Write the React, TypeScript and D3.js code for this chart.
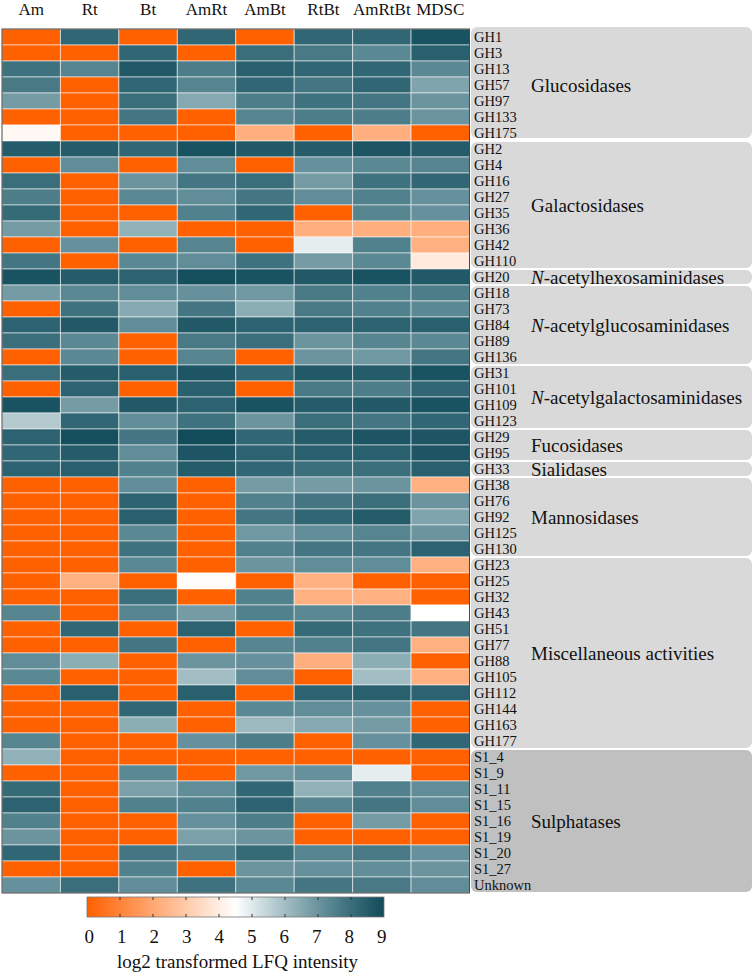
import React from "react";
import * as d3 from "d3";

// Samples (columns) and glycoside hydrolase / sulphatase families (rows)
const samples = ["Am", "Rt", "Bt", "AmRt", "AmBt", "RtBt", "AmRtBt", "MDSC"];

const families = [
  "GH1", "GH3", "GH13", "GH57", "GH97", "GH133", "GH175",
  "GH2", "GH4", "GH16", "GH27", "GH35", "GH36", "GH42", "GH110",
  "GH20",
  "GH18", "GH73", "GH84", "GH89", "GH136",
  "GH31", "GH101", "GH109", "GH123",
  "GH29", "GH95",
  "GH33",
  "GH38", "GH76", "GH92", "GH125", "GH130",
  "GH23", "GH25", "GH32", "GH43", "GH51", "GH77", "GH88", "GH105", "GH112", "GH144", "GH163", "GH177",
  "S1_4", "S1_9", "S1_11", "S1_15", "S1_16", "S1_19", "S1_20", "S1_27", "Unknown",
];

// Activity groups: [prefix in italics, rest of name]
const groupNames: [string, string][] = [
  ["", "Glucosidases"],
  ["", "Galactosidases"],
  ["N", "-acetylhexosaminidases"],
  ["N", "-acetylglucosaminidases"],
  ["N", "-acetylgalactosaminidases"],
  ["", "Fucosidases"],
  ["", "Sialidases"],
  ["", "Mannosidases"],
  ["", "Miscellaneous activities"],
  ["", "Sulphatases"],
];
const groupSizes = [7, 8, 1, 5, 4, 2, 1, 5, 12, 9];

// log2 transformed LFQ intensity per sample, in family order
const am = [0, 0, 7.9, 7.7, 6.8, 0, 4.3, 8.5, 0, 8.0, 7.6, 8.1, 6.8, 0, 7.8, 8.8, 6.8, 0, 8.3, 8.0, 0, 8.0, 0, 8.8, 5.7, 8.3, 8.2, 8.3, 0, 0, 0, 0, 0, 0, 0, 0, 7.4, 0, 0, 7.2, 7.3, 0, 0, 0, 7.4, 6.3, 0, 8.1, 8.3, 7.5, 7.0, 8.2, 0, 7.1];
const rt = [8.2, 0, 7.4, 0, 0, 0, 0, 8.5, 7.2, 0, 0, 0, 0, 7.1, 0, 8.5, 7.3, 7.9, 8.6, 7.3, 7.3, 8.5, 8.3, 6.8, 8.2, 8.9, 8.5, 8.4, 0, 0, 0, 0, 0, 0, 2.3, 0, 0, 8.2, 0, 6.4, 0, 8.4, 0, 0, 0, 0, 0, 0, 0, 0, 0, 0, 0, 8.0];
const bt = [0, 8.2, 8.6, 8.2, 8.0, 7.8, 0, 8.2, 0, 7.0, 7.3, 0, 6.3, 0, 7.3, 8.3, 7.2, 6.5, 7.2, 0, 0, 8.4, 0, 8.6, 7.2, 7.8, 7.2, 7.5, 7.2, 8.3, 8.4, 7.3, 7.9, 7.3, 0, 8.0, 7.4, 0, 7.8, 0, 0, 0, 8.2, 6.4, 0, 0, 7.3, 6.7, 7.5, 0, 0, 7.8, 7.5, 7.2];
const amRt = [8.2, 0, 7.6, 7.4, 6.5, 0, 0, 8.8, 7.2, 7.8, 7.2, 7.5, 0, 7.4, 7.2, 8.9, 7.1, 7.8, 8.6, 7.7, 7.4, 8.7, 8.4, 8.3, 7.9, 9.0, 8.7, 8.5, 0, 0, 0, 0, 0, 0, 4.4, 0, 6.8, 8.3, 0, 7.0, 6.0, 8.4, 0, 0, 7.1, 0, 0, 7.2, 7.5, 7.1, 6.7, 7.5, 0, 7.9];
const amBt = [0, 8.0, 8.4, 8.2, 7.6, 7.4, 2.2, 8.6, 0, 8.0, 7.8, 8.2, 0, 0, 7.9, 8.8, 6.9, 6.4, 8.3, 8.0, 0, 8.2, 0, 8.8, 7.0, 8.2, 8.3, 8.2, 6.8, 7.5, 7.8, 6.9, 7.5, 7.0, 0, 7.5, 7.5, 0, 7.4, 7.1, 7.2, 0, 7.3, 6.1, 7.6, 0, 6.9, 8.2, 8.3, 7.6, 7.0, 8.1, 7.0, 7.3];
const rtBt = [8.2, 7.7, 8.2, 7.8, 7.9, 7.6, 0, 8.5, 7.1, 6.8, 7.2, 0, 2.2, 4.9, 6.8, 8.6, 7.7, 7.7, 8.3, 7.0, 7.0, 8.6, 7.7, 8.5, 8.0, 8.5, 8.4, 8.0, 6.8, 7.8, 8.2, 7.2, 7.8, 7.2, 2.3, 2.3, 7.3, 8.1, 7.5, 2.2, 0, 8.3, 7.2, 6.5, 0, 0, 7.1, 6.3, 7.4, 0, 0, 7.4, 7.1, 7.8];
const amRtBt = [8.2, 7.3, 8.2, 8.2, 7.8, 7.6, 2.2, 8.7, 7.3, 7.9, 7.5, 7.4, 2.2, 7.5, 7.3, 8.8, 7.5, 7.5, 8.3, 7.4, 6.9, 8.5, 7.6, 8.6, 7.8, 8.7, 8.4, 8.0, 7.0, 8.0, 8.5, 7.4, 7.8, 7.2, 0, 2.3, 7.6, 7.9, 7.8, 6.4, 6.0, 8.4, 7.1, 6.8, 7.1, 0, 4.9, 7.5, 7.8, 6.8, 0, 7.7, 7.2, 7.7];
const mdsc = [8.8, 8.4, 7.3, 6.6, 7.0, 7.0, 0, 8.5, 7.4, 8.2, 7.1, 7.1, 2.2, 2.3, 3.9, 8.6, 7.6, 7.3, 8.4, 7.3, 7.8, 8.8, 8.2, 8.8, 8.2, 8.7, 8.7, 8.4, 2.3, 7.0, 6.6, 7.0, 8.3, 2.3, 0, 0, 4.5, 7.8, 2.3, 0, 2.3, 8.3, 0, 0, 8.2, 0, 0, 7.2, 7.2, 0, 0, 7.1, 7.0, 7.2];

const seriesBySample = [am, rt, bt, amRt, amBt, rtBt, amRtBt, mdsc];

const legendTicks = [0, 1, 2, 3, 4, 5, 6, 7, 8, 9];
const legendTitle = "log2 transformed LFQ intensity";

const FONT = "'Liberation Serif', 'Times New Roman', Times, serif";

// diverging palette: orange -> white -> dark teal
const lowInterp = d3.interpolateRgb("#ff6000", "#ffffff");
const highInterp = d3.interpolateRgb.gamma(0.75)("#ffffff", "#124b5a");
const t = d3.scaleLinear().domain([0, 4.5, 9]).range([0, 1, 2]).clamp(true);
const color = (v: number) => {
  const u = t(v);
  return u <= 1 ? lowInterp(u) : highInterp(u - 1);
};

export default function App() {
  const width = 755;
  const height = 976;

  const x = d3.scaleBand<string>().domain(samples).range([2, 469.5]).padding(0);
  const y = d3.scaleBand<string>().domain(families).range([29, 893]).padding(0);

  const cells: { key: string; x: number; y: number; w: number; h: number; fill: string }[] = [];
  samples.forEach((s, si) => {
    families.forEach((f, fi) => {
      cells.push({
        key: `${s}-${f}`,
        x: x(s)!,
        y: y(f)!,
        w: x.bandwidth(),
        h: y.bandwidth(),
        fill: color(seriesBySample[si][fi]),
      });
    });
  });

  // group extents
  const groups: { name: [string, string]; y0: number; y1: number; idx: number }[] = [];
  let start = 0;
  groupSizes.forEach((n, gi) => {
    const first = families[start];
    const last = families[start + n - 1];
    groups.push({ name: groupNames[gi], y0: y(first)!, y1: y(last)! + y.bandwidth(), idx: gi });
    start += n;
  });

  const cb = d3.scaleLinear().domain([0, 9]).range([87, 384]);
  const cbTop = 897;
  const cbH = 20;
  const gradStops = d3.range(0, 9.01, 0.25);

  return (
    <svg
      width={width}
      height={height}
      style={{ position: "absolute", left: 0, top: 0, background: "#fff", fontFamily: FONT }}
    >
      <defs>
        <linearGradient id="lfq-grad" x1="0" x2="1" y1="0" y2="0">
          {gradStops.map((v) => (
            <stop key={v} offset={`${(v / 9) * 100}%`} stopColor={color(v)} />
          ))}
        </linearGradient>
      </defs>

      {/* column headers */}
      {samples.map((s) => (
        <text key={s} x={x(s)! + x.bandwidth() / 2} y={15} textAnchor="middle" fontSize={17} fill="#111">
          {s}
        </text>
      ))}

      {/* group boxes */}
      {groups.map((g) => (
        <rect
          key={`box-${g.idx}`}
          x={471}
          y={g.idx === 0 ? g.y0 - 2 : g.y0 + 1}
          width={281}
          height={g.y1 - g.y0 - (g.idx === 0 ? 1 : 2)}
          rx={6}
          fill={g.idx === groups.length - 1 ? "#c0c0c0" : "#d9d9d9"}
        />
      ))}

      {/* heatmap cells */}
      <g>
        {cells.map((c) => (
          <rect
            key={c.key}
            x={c.x}
            y={c.y}
            width={c.w}
            height={c.h}
            fill={c.fill}
            stroke="rgba(255,255,255,0.55)"
            strokeWidth={1}
          />
        ))}
        <rect
          x={x.range()[0]}
          y={y.range()[0]}
          width={x.range()[1] - x.range()[0]}
          height={y.range()[1] - y.range()[0]}
          fill="none"
          stroke="#4a4a4a"
          strokeWidth={1}
        />
      </g>

      {/* row labels */}
      {families.map((f) => (
        <text
          key={`lab-${f}`}
          x={474}
          y={y(f)! + y.bandwidth() / 2}
          dominantBaseline="central"
          fontSize={14.5}
          fill="#111"
        >
          {f}
        </text>
      ))}

      {/* group labels */}
      {groups.map((g) => (
        <text
          key={`glab-${g.idx}`}
          x={531}
          y={(g.y0 + g.y1) / 2}
          dominantBaseline="central"
          fontSize={19}
          fill="#111"
        >
          {g.name[0] && <tspan fontStyle="italic">{g.name[0]}</tspan>}
          <tspan>{g.name[1]}</tspan>
        </text>
      ))}

      {/* colour legend */}
      <rect x={cb(0)} y={cbTop} width={cb(9) - cb(0)} height={cbH} fill="url(#lfq-grad)" stroke="#777" strokeWidth={0.8} />
      {legendTicks.map((tk) => (
        <g key={`tick-${tk}`}>
          {tk > 0 && tk < 9 && (
            <>
              <line x1={cb(tk)} x2={cb(tk)} y1={cbTop} y2={cbTop + 3} stroke="#333" strokeWidth={1} />
              <line x1={cb(tk)} x2={cb(tk)} y1={cbTop + cbH - 3} y2={cbTop + cbH} stroke="#333" strokeWidth={1} />
            </>
          )}
          <text x={cb(tk) + (4.5 - tk) * 0.5} y={943} textAnchor="middle" fontSize={19} fill="#111">
            {tk}
          </text>
        </g>
      ))}
      <text x={(cb(0) + cb(9)) / 2 + 2} y={968} textAnchor="middle" fontSize={19} fill="#111">
        {legendTitle}
      </text>
    </svg>
  );
}
